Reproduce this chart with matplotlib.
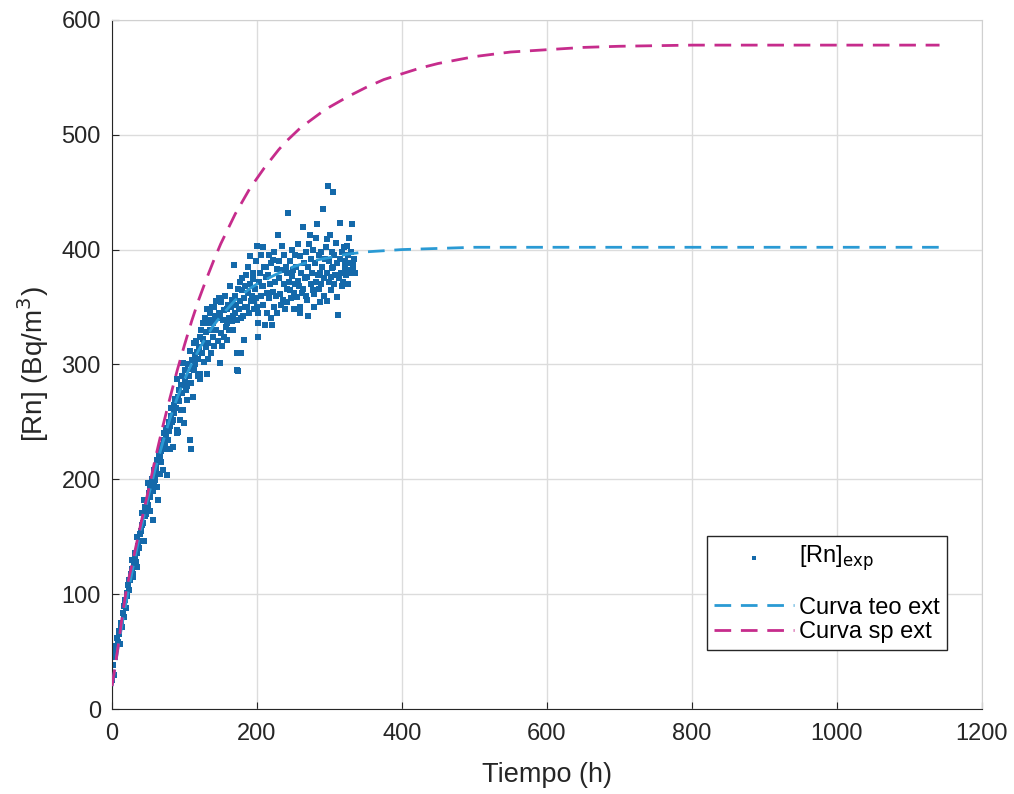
import matplotlib
matplotlib.use("Agg")
import matplotlib.pyplot as plt

plt.rcParams['font.family'] = ['Liberation Sans', 'DejaVu Sans']

t_exp = [0.5, 1.5, 2.5, 3, 4, 5, 6, 7, 8, 9, 10, 11, 12, 13, 14, 15, 16, 17, 18, 19,
         20, 21, 22, 23, 24, 25, 26, 27, 28, 29, 29.5, 30, 31, 32, 33, 34, 34.5, 35, 36, 37,
         38, 39, 40, 41, 42, 43, 43.5, 44, 45, 46, 47, 48, 48.5, 49, 50, 51, 52, 52.5, 53, 54,
         55, 56, 57, 57.5, 58, 59, 60, 61, 62, 62.5, 63, 64, 65, 66, 66.5, 67, 68, 69, 70, 71,
         71.5, 72, 73, 74, 75, 76, 76.5, 77, 78, 79, 80, 80.5, 81, 82, 83, 84, 84.5, 85, 86, 87,
         88, 89, 89.5, 90, 90.5, 91, 92, 93, 94, 94.5, 95, 96, 97, 98, 98.5, 99, 100, 101, 102, 103,
         103.5, 105, 106, 107, 108, 108.5, 109, 110, 111, 112, 112.5, 113, 114, 115, 116, 117, 118, 119, 120, 121,
         121.5, 122, 123, 124, 125, 126, 126.5, 127, 128, 129, 130, 131, 131.5, 132, 133, 134, 135, 135.5, 136, 137,
         138, 139, 140, 140.5, 141, 142, 143, 144, 145, 146, 147, 148, 149, 149.5, 150, 151, 152, 153, 154, 155,
         156, 157, 158, 158.5, 159, 160, 161, 162, 163, 164, 165, 166, 167, 167.5, 168, 169, 170, 171, 172, 172.5,
         173, 174, 174.5, 175, 176, 177, 177.5, 178, 179, 180, 181, 181.5, 182, 183, 184, 185, 186, 187, 188, 189,
         190, 191, 192, 193, 194, 195, 195.5, 196, 197, 198, 199, 200, 200.5, 201, 201.5, 202, 203, 204, 205, 206,
         207, 208, 208.5, 209, 210, 211, 212, 213, 213.5, 214, 215, 216, 217, 218, 219, 220, 221, 222, 222.5, 223,
         224, 225, 226, 227, 228, 229, 230, 231, 232, 233, 234, 235, 236, 237, 238, 239, 240, 241, 241.5, 242,
         243, 244, 245, 246, 247, 248, 249, 250, 250.5, 251, 252, 253, 254, 255, 256, 257, 258, 259, 259.5, 260,
         261, 262, 263, 264, 265, 266, 267, 268, 269, 269.5, 270, 271, 272, 273, 274, 275, 276, 277, 278, 278.5,
         279, 280, 281, 282, 283, 284, 285, 286, 287, 287.5, 288, 289, 290, 291, 292, 293, 294, 295, 296, 296.5,
         297, 298, 299, 300, 301, 301.5, 302, 303, 304, 305, 305.5, 306, 307, 308, 309, 310, 311, 312, 313, 314,
         315, 316, 317, 318, 319, 320, 321, 322, 323, 324, 324.5, 325, 326, 327, 328, 329, 330, 331, 332, 333, 334, 335]
rn_exp = [25, 38, 30, 49, 45, 55, 52, 62, 58, 68, 65, 57, 75, 72, 71, 84, 80, 90, 95, 88,
          101, 98, 108, 104, 112, 112, 118, 130, 122, 115, 118, 126, 132, 136, 128, 124, 150, 136, 142, 140,
          146, 152, 155, 171, 160, 162, 182, 146, 168, 176, 170, 173, 182, 178, 197, 188, 172, 193, 185, 195,
          200, 190, 165, 208, 198, 199, 210, 205, 217, 193, 182, 215, 222, 205, 220, 225, 215, 230, 228, 208,
          234, 240, 232, 245, 238, 204, 226, 234, 250, 242, 226, 246, 255, 262, 250, 252, 228, 265, 258, 270,
          262, 243, 287, 240, 272, 241, 278, 268, 252, 260, 282, 275, 290, 260, 301, 249, 285, 295, 278, 281,
          269, 300, 290, 312, 234, 226, 284, 304, 296, 272, 319, 295, 308, 300, 320, 311, 290, 305, 315, 324,
          287, 292, 330, 310, 322, 336, 302, 319, 340, 315, 328, 292, 348, 319, 305, 336, 345, 330, 310, 339,
          350, 324, 336, 350, 316, 342, 355, 330, 340, 320, 345, 358, 301, 342, 327, 354, 316, 339, 324, 347,
          360, 333, 336, 321, 348, 352, 340, 330, 368, 350, 356, 338, 342, 330, 387, 345, 360, 352, 310, 339,
          295, 366, 294, 348, 372, 355, 310, 340, 365, 375, 342, 321, 358, 350, 368, 378, 350, 362, 385, 345,
          394, 370, 355, 360, 380, 374, 355, 348, 366, 390, 358, 403, 350, 345, 336, 324, 372, 380, 395, 360,
          368, 402, 368, 352, 385, 334, 376, 385, 362, 345, 378, 395, 358, 370, 340, 388, 334, 391, 363, 350,
          398, 372, 360, 383, 345, 413, 375, 390, 361, 352, 403, 382, 356, 370, 395, 348, 385, 380, 354, 366,
          432, 372, 390, 365, 358, 400, 377, 382, 348, 362, 395, 370, 385, 359, 373, 405, 368, 394, 350, 345,
          380, 362, 420, 366, 388, 375, 398, 360, 376, 356, 385, 342, 405, 413, 370, 392, 380, 365, 400, 361,
          350, 388, 372, 410, 422, 378, 395, 366, 380, 354, 398, 370, 385, 435, 375, 360, 392, 402, 409, 355,
          380, 455, 372, 390, 413, 376, 365, 398, 384, 385, 450, 370, 395, 378, 406, 359, 388, 343, 375, 423,
          392, 380, 398, 368, 372, 402, 385, 390, 378, 403, 382, 395, 370, 410, 388, 380, 398, 422, 385, 388, 392, 380]

# extended theoretical curve
t_teo = [0, 5, 10, 15, 20, 30, 40, 50, 60, 70, 80, 90, 100, 110, 120, 130, 140, 150, 160, 170,
         180, 190, 200, 225, 250, 275, 300, 325, 350, 375, 400, 450, 500, 600, 800, 1000, 1142]
rn_teo = [20, 40, 60, 78, 95, 127, 157, 185, 210, 232, 253, 271, 287, 301, 313, 324, 334, 342, 349, 356,
          361, 366, 370, 378, 385, 390, 393, 396, 398, 399, 400, 401, 402, 402, 402, 402, 402]

# extended sp curve
t_sp = [0, 5, 10, 15, 20, 25, 30, 40, 50, 60, 70, 80, 90, 100, 110, 120, 130, 140, 150, 160,
        170, 180, 190, 200, 210, 220, 230, 240, 250, 260, 275, 290, 300, 325, 350, 375, 400, 425,
        450, 475, 500, 550, 600, 650, 700, 800, 900, 1000, 1142]
rn_sp = [20, 40, 62, 85, 105, 119, 133, 162, 190, 219, 246, 271, 295, 317, 338, 357, 374, 390, 405, 418,
         431, 442, 453, 462, 471, 479, 487, 494, 500, 506, 513, 520, 524, 533, 541, 548, 553, 558,
         562, 565, 568, 572, 574, 576, 577, 578, 578, 578, 578]

fig = plt.figure(figsize=(10.14, 7.94), dpi=100)
ax = fig.add_axes([0.1105, 0.107, 0.8575, 0.868])

ax.scatter(t_exp, rn_exp, marker='s', s=20, color='#1469aa', linewidths=0,
           label='[Rn]$_{\\mathrm{exp}}$\n', zorder=2)
ax.plot(t_teo, rn_teo, color='#2a9ad4', lw=2, dashes=(6, 3.5),
        label='Curva teo ext', zorder=3)
ax.plot(t_sp, rn_sp, color='#c62c8c', lw=2, dashes=(6, 3.5),
        label='Curva sp ext', zorder=3)

ax.set_xlim(0, 1200)
ax.set_ylim(0, 600)
ax.set_xticks(range(0, 1201, 200))
ax.set_yticks(range(0, 601, 100))
ax.grid(True, color='#dcdcdc', lw=1)
ax.set_axisbelow(True)

ax.tick_params(direction='in', length=5, labelsize=17, colors='#262626')
ax.tick_params(axis='x', pad=10)
ax.tick_params(axis='y', pad=8)
for side in ['left', 'bottom']:
    ax.spines[side].set_color('#262626')
for side in ['top', 'right']:
    ax.spines[side].set_color('#d0d0d0')

ax.set_xlabel('Tiempo (h)', fontsize=19.5, color='#262626', va='center')
ax.set_ylabel('[Rn] (Bq/m$^3$)', fontsize=20, color='#262626', va='center')
ax.xaxis.set_label_coords(0.5, -0.096)
ax.yaxis.set_label_coords(-0.091, 0.5)

leg = ax.legend(loc='lower right', bbox_to_anchor=(0.96, 0.0856), fontsize=17,
                fancybox=False, edgecolor='#262626', framealpha=1,
                handlelength=3.4, handletextpad=0.2, markerscale=0.8,
                borderpad=0.3, labelspacing=0.1, borderaxespad=0)
leg.get_frame().set_linewidth(1)
# the subscript row is taller in the original, keep the marker level with the text
leg.get_texts()[0].set_linespacing(0.95)
h0 = leg.legend_handles[0]
off = h0.get_offsets().copy()
off[:, 1] += 9.5
h0.set_offsets(off)

fig.savefig('out.png', dpi=100)
